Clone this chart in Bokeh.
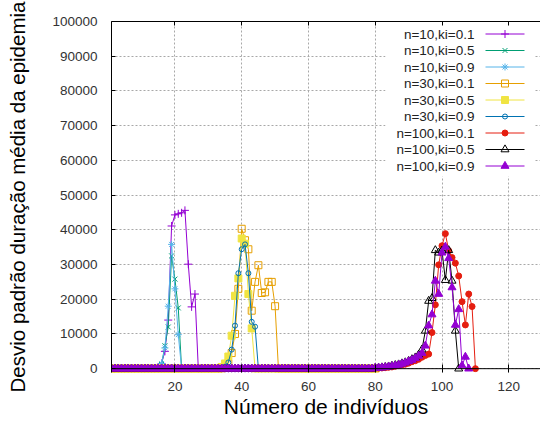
from bokeh.plotting import figure
from bokeh.models import (Range1d, FixedTicker, BasicTickFormatter, LinearAxis,
                          Span, CustomJSTickFormatter)
from bokeh.core.properties import value
from bokeh.embed import file_html
from bokeh.resources import INLINE

# ---------------------------------------------------------------------------
# Data: standard deviation of the mean epidemic duration vs. number of
# individuals, for three population sizes n and three ki values.
# Each series is zero outside the stretch of values listed here.
# ---------------------------------------------------------------------------
LABELS = ["n=10,ki=0.1", "n=10,ki=0.5", "n=10,ki=0.9",
          "n=30,ki=0.1", "n=30,ki=0.5", "n=30,ki=0.9",
          "n=100,ki=0.1", "n=100,ki=0.5", "n=100,ki=0.9"]

X_TICKS = [20, 40, 60, 80, 100, 120]
Y_TICKS = [0, 10000, 20000, 30000, 40000, 50000, 60000, 70000, 80000, 90000, 100000]

# n=10 and n=30 sweeps run over x = 1..SMALL_X_MAX
SMALL_X_MAX = 80

N10_KI01_FROM = 16
N10_KI01 = [1500, 5000, 14000, 41100, 44300, 44600, 44900, 45600, 30100, 17800, 21500, 0]
N10_KI05_FROM = 16
N10_KI05 = [1200, 6600, 12000, 32500, 25800, 17500, 0]
N10_KI09_FROM = 16
N10_KI09 = [1500, 6000, 18000, 35800, 23000, 9800, 0]

N30_KI01_FROM = 35
N30_KI01 = [500, 1500, 4500, 10000, 23000, 40300, 37000, 34400, 16700, 25000,
            29800, 21800, 22000, 25000, 25000, 18000, 0]
N30_KI05_FROM = 34
N30_KI05 = [500, 1500, 3500, 9500, 21000, 26000, 37500, 36000, 21500, 11600, 0]
N30_KI09_FROM = 34
N30_KI09 = [300, 600, 1800, 5500, 12400, 27500, 34400, 35800, 27500, 13500, 12100, 0]

# n=100 sweeps run from x = 1 up to the last value listed (zero below N100_FROM)
N100_FROM = 80
N100_KI01 = [100, 150, 200, 300, 400, 500, 700, 900, 1100, 1300, 1600, 2000, 2300,
             2700, 3300, 3800, 4200, 10400, 18400, 29900, 35400, 38900, 34000, 32000,
             30400, 26700, 19300, 12600, 21500, 17900, 0]
N100_KI05 = [200, 250, 350, 450, 600, 800, 1000, 1200, 1500, 1800, 2200, 2700, 3200,
             4000, 5500, 10900, 19500, 20300, 34100, 33400, 34000, 25500, 34100, 25300,
             10900, 0]
N100_KI09 = [200, 250, 300, 400, 550, 700, 900, 1100, 1400, 1700, 2100, 2500, 3000,
             3700, 4500, 6600, 12400, 15600, 25300, 21500, 33400, 35100, 31800, 23400,
             12600, 17100, 900, 3400, 0]


def build(x_max, start, values):
    xs = list(range(1, x_max + 1))
    ys = [0] * len(xs)
    for i, v in enumerate(values):
        ys[start - 1 + i] = v
    return xs, ys


SERIES = [
    build(SMALL_X_MAX, N10_KI01_FROM, N10_KI01),
    build(SMALL_X_MAX, N10_KI05_FROM, N10_KI05),
    build(SMALL_X_MAX, N10_KI09_FROM, N10_KI09),
    build(SMALL_X_MAX, N30_KI01_FROM, N30_KI01),
    build(SMALL_X_MAX, N30_KI05_FROM, N30_KI05),
    build(SMALL_X_MAX, N30_KI09_FROM, N30_KI09),
    build(N100_FROM + len(N100_KI01) - 1, N100_FROM, N100_KI01),
    build(N100_FROM + len(N100_KI05) - 1, N100_FROM, N100_KI05),
    build(N100_FROM + len(N100_KI09) - 1, N100_FROM, N100_KI09),
]

# ---------------------------------------------------------------------------
# Styling (gnuplot-like line/point types)
# ---------------------------------------------------------------------------
COLORS = ["#9400d3", "#009e73", "#56b4e9", "#e69f00", "#f0e442", "#0072b2",
          "#e51e10", "#000000", "#9400d3"]
MARKERS = ["cross", "x", "asterisk", "square", "square", "circle", "circle",
           "triangle", "triangle"]
FILLED = [False, False, False, False, True, False, True, False, True]
SIZES = [8, 7, 7, 7, 7, 5, 6, 8, 8]

FONT = "Liberation Sans"
W, H = 540, 421
FRAME_L, FRAME_R, FRAME_T, FRAME_B = 111, 540, 21, 372
X0, X1 = 1, 129.5
Y0, Y1 = -1100, 100000

p = figure(width=W, height=H, output_backend="svg", toolbar_location=None,
           x_range=Range1d(X0, X1), y_range=Range1d(Y0, Y1),
           min_border_left=FRAME_L, min_border_right=W - FRAME_R,
           min_border_top=FRAME_T, min_border_bottom=H - FRAME_B)
p.outline_line_color = None
p.background_fill_color = "white"
p.border_fill_color = "white"

# bottom axis: labels and inward ticks, the zero line is drawn separately
xa = p.xaxis[0]
xa.ticker = FixedTicker(ticks=X_TICKS)
xa.axis_line_color = None
xa.major_tick_in = 8
xa.major_tick_out = 0
xa.major_tick_line_color = "black"
xa.minor_tick_line_color = None
xa.major_label_standoff = 9
xa.major_label_text_font = FONT
xa.major_label_text_font_size = "13.5px"
xa.major_label_text_color = "#333333"
xa.axis_label = "Número de indivíduos"
xa.axis_label_text_font = FONT
xa.axis_label_text_font_size = "21px"
xa.axis_label_text_font_style = "normal"
xa.axis_label_text_color = "black"
xa.axis_label_standoff = 1

ya = p.yaxis[0]
ya.ticker = FixedTicker(ticks=Y_TICKS)
ya.formatter = BasicTickFormatter(use_scientific=False)
ya.axis_line_color = "black"
ya.major_tick_in = 4
ya.major_tick_out = 0
ya.major_tick_line_color = "black"
ya.minor_tick_line_color = None
ya.major_label_standoff = 14
ya.major_label_text_font = FONT
ya.major_label_text_font_size = "13.5px"
ya.major_label_text_color = "#333333"
ya.axis_label = "Desvio padrão duração média da epidemia"
ya.axis_label_text_font = FONT
ya.axis_label_text_font_size = "20.5px"
ya.axis_label_text_font_style = "normal"
ya.axis_label_text_color = "black"
ya.axis_label_standoff = 20

# top border with mirrored inward ticks
top = LinearAxis(ticker=FixedTicker(ticks=X_TICKS),
                 formatter=CustomJSTickFormatter(code="return ''"),
                 major_tick_in=4, major_tick_out=0, minor_tick_line_color=None,
                 axis_line_color="black", major_label_standoff=0,
                 major_label_text_font_size="1px")
p.add_layout(top, "above")

for g in (p.xgrid[0], p.ygrid[0]):
    g.grid_line_color = "#a8a8a8"
    g.grid_line_dash = "2 2"
    g.grid_line_width = 1

# ---------------------------------------------------------------------------
# Series
# ---------------------------------------------------------------------------
for (xs, ys), c, m, f, s in zip(SERIES, COLORS, MARKERS, FILLED, SIZES):
    p.line(xs, ys, line_color=c, line_width=1)
    p.scatter(xs, ys, marker=m, size=s, line_color=c, line_width=1,
              fill_color=c if f else None)

# zero line (bottom border)
p.add_layout(Span(location=0, dimension="width", line_color="black", line_width=1))


# ---------------------------------------------------------------------------
# Key: labels right-aligned, sample line with point to their right
# ---------------------------------------------------------------------------
def sx(px):
    return X0 + (px - FRAME_L) * (X1 - X0) / (FRAME_R - FRAME_L)


def sy(py):
    return Y1 - (py - FRAME_T) * (Y1 - Y0) / (FRAME_B - FRAME_T)


KEY_LEFT, KEY_RIGHT, KEY_BOTTOM = 385, 534, 176
KEY_TEXT_RIGHT, KEY_LINE_L, KEY_LINE_R = 474, 485, 524
KEY_ROW0, KEY_ROW_STEP = 33.5, 16.5

p.quad(left=[sx(KEY_LEFT)], right=[sx(KEY_RIGHT)], top=[Y1], bottom=[sy(KEY_BOTTOM)],
       fill_color="white", line_color=None)

rows = [sy(KEY_ROW0 + i * KEY_ROW_STEP) for i in range(len(LABELS))]
p.text(x=[sx(KEY_TEXT_RIGHT)] * len(LABELS), y=rows, text=LABELS,
       text_align="right", text_baseline="middle",
       text_font=value(FONT), text_font_size="13.5px", text_color="#222222")
for yk, c, m, f, s in zip(rows, COLORS, MARKERS, FILLED, SIZES):
    p.line([sx(KEY_LINE_L), sx(KEY_LINE_R)], [yk, yk], line_color=c, line_width=1)
    p.scatter([sx((KEY_LINE_L + KEY_LINE_R) / 2)], [yk], marker=m, size=s,
              line_color=c, line_width=1, fill_color=c if f else None)

open("out.html", "w").write(file_html(p, INLINE))
